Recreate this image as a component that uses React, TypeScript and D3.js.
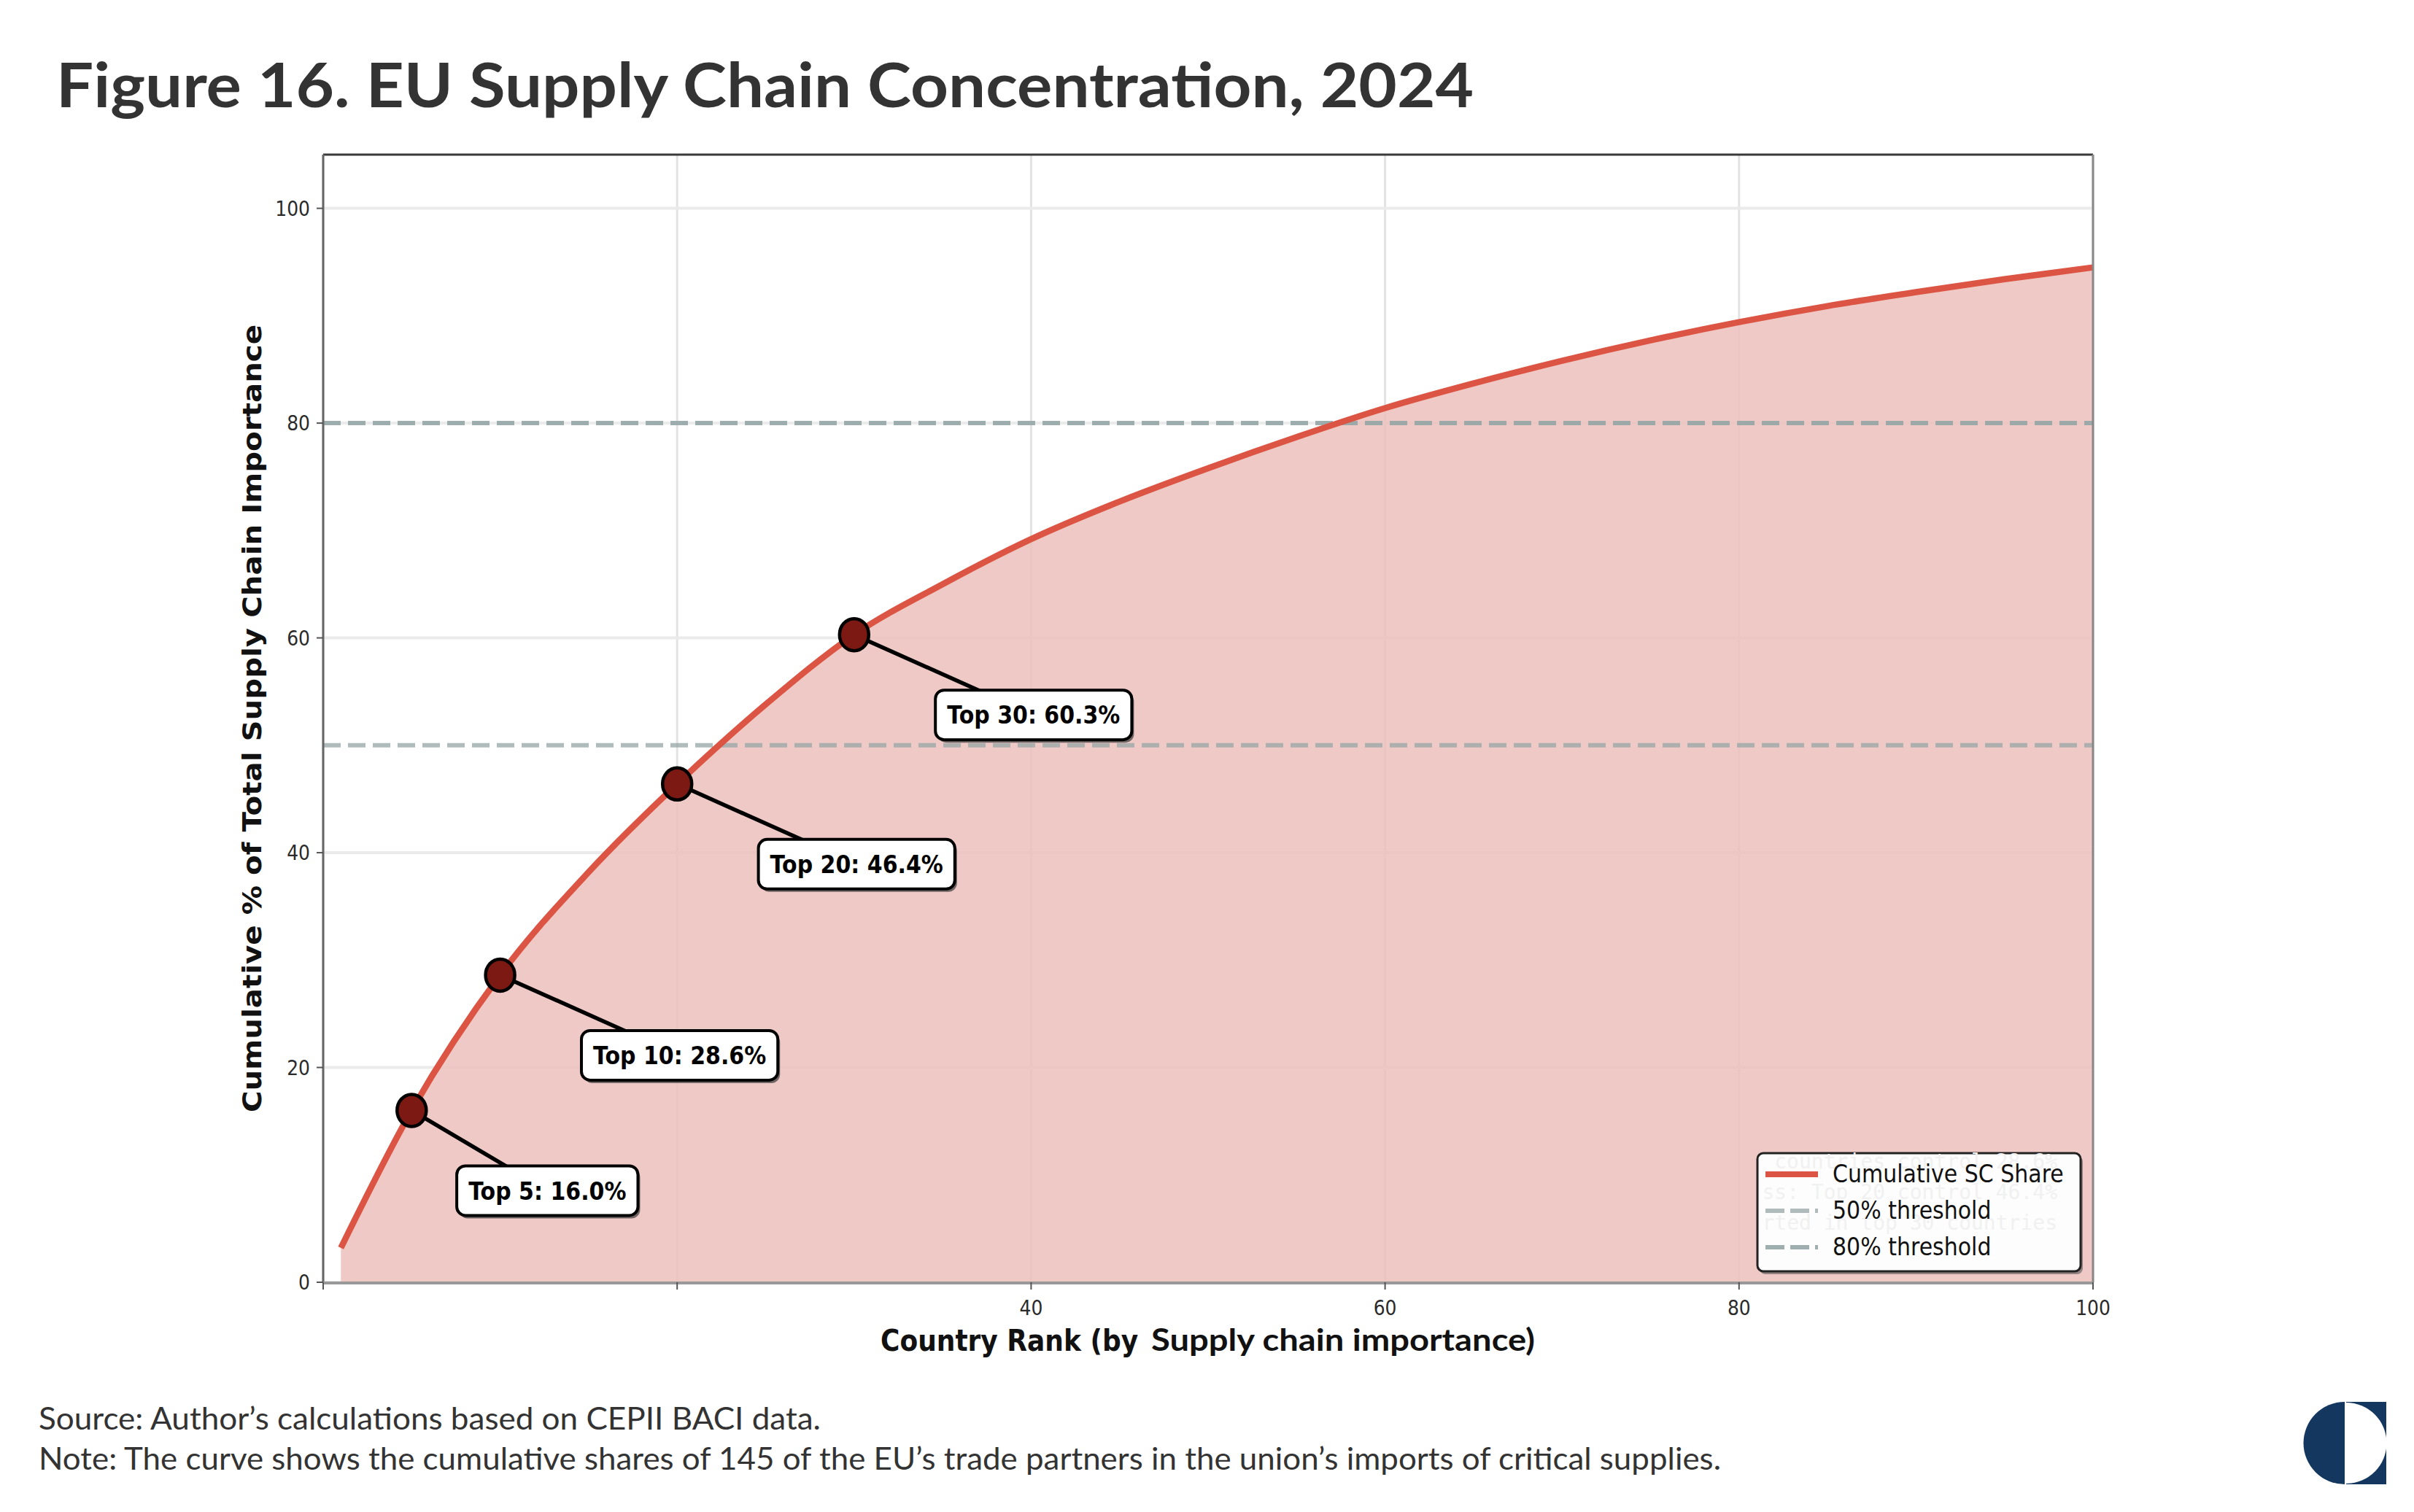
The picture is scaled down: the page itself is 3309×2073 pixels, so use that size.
import React, { useEffect, useRef } from "react";
import * as d3 from "d3";

// ---- data ----
const ranks = [1, 5, 10, 15, 20, 25, 30, 35, 40, 45, 50, 55, 60, 65, 70, 75, 80, 85, 90, 95, 100];
const cumShare = [3.2, 16.0, 28.6, 38.2, 46.4, 53.8, 60.3, 65.0, 69.2, 72.7, 75.8, 78.7, 81.4, 83.7, 85.8, 87.7, 89.4, 90.9, 92.2, 93.4, 94.5];

const topN = [5, 10, 20, 30];
const topShare = [16.0, 28.6, 46.4, 60.3];

const thresholds = [50, 80];
const thresholdLabels = ["50% threshold", "80% threshold"];

const xTicks = [0, 20, 40, 60, 80, 100];
const xTickLabels = ["", "", "40", "60", "80", "100"];
const yTicks = [0, 20, 40, 60, 80, 100];

const TITLE = "Figure 16. EU Supply Chain Concentration, 2024";
const SOURCE = "Source: Author\u2019s calculations based on CEPII BACI data.";
const NOTE = "Note: The curve shows the cumulative shares of 145 of the EU\u2019s trade partners in the union\u2019s imports of critical supplies.";

const W = 3309;
const H = 2073;
const SY = 1.12; // the matplotlib image is slightly stretched vertically
const MPL = "'DejaVu Sans', sans-serif";
const SANS = "Lato, 'Noto Sans', sans-serif";
const RED = "#dc5443";

const App: React.FC = () => {
  const svgRef = useRef<SVGSVGElement | null>(null);

  useEffect(() => {
    if (!svgRef.current) return;
    const svg = d3.select(svgRef.current);
    svg.selectAll("*").remove();

    const m = { left: 443, right: 2869, top: 212, bottom: 1758 };
    const x = d3.scaleLinear().domain([0, 100]).range([m.left, m.right]);
    const y = d3.scaleLinear().domain([0, 105]).range([m.bottom, m.top]);

    svg.append("rect").attr("width", W).attr("height", H).attr("fill", "#fff");

    // stretched text helper
    const sText = (
      g: d3.Selection<any, unknown, null, undefined>,
      tx: number,
      ty: number,
      txt: string,
      size: number,
      anchor: string,
      weight = "normal",
      fill = "#222"
    ) =>
      g
        .append("text")
        .attr("transform", `translate(${tx},${ty}) scale(1,${SY})`)
        .attr("font-family", MPL)
        .attr("font-size", size)
        .attr("font-weight", weight)
        .attr("text-anchor", anchor)
        .attr("fill", fill)
        .text(txt);

    /* title */
    svg
      .append("text")
      .attr("x", 77)
      .attr("y", 147)
      .attr("font-family", SANS)
      .attr("font-weight", 700)
      .attr("font-size", 84)
      .attr("fill", "#333")
      .attr("textLength", 1943)
      .attr("lengthAdjust", "spacingAndGlyphs")
      .text(TITLE);

    /* grid */
    const grid = svg.append("g");
    grid
      .selectAll(".gx")
      .data(xTicks)
      .enter()
      .append("line")
      .attr("x1", (d) => x(d))
      .attr("x2", (d) => x(d))
      .attr("y1", m.top)
      .attr("y2", m.bottom)
      .attr("stroke", "#e3e3e3")
      .attr("stroke-width", 3);
    grid
      .selectAll(".gy")
      .data(yTicks)
      .enter()
      .append("line")
      .attr("x1", m.left)
      .attr("x2", m.right)
      .attr("y1", (d) => y(d))
      .attr("y2", (d) => y(d))
      .attr("stroke", "#ebebeb")
      .attr("stroke-width", 4);

    /* area + curve */
    const pts = ranks.map((r, i) => ({ r, v: cumShare[i] }));
    const area = d3
      .area<{ r: number; v: number }>()
      .x((d) => x(d.r))
      .y0(y(0))
      .y1((d) => y(d.v))
      .curve(d3.curveMonotoneX);
    svg.append("path").attr("d", area(pts)).attr("fill", "#ecbfbb").attr("fill-opacity", 0.85);

    thresholds.forEach((t, i) => {
      svg
        .append("line")
        .attr("x1", m.left)
        .attr("x2", m.right)
        .attr("y1", y(t))
        .attr("y2", y(t))
        .attr("stroke", "#95a5a6")
        .attr("stroke-opacity", i === 0 ? 0.75 : 0.9)
        .attr("stroke-width", 6)
        .attr("stroke-dasharray", "24 10");
    });

    const line = d3
      .line<{ r: number; v: number }>()
      .x((d) => x(d.r))
      .y((d) => y(d.v))
      .curve(d3.curveMonotoneX);
    svg
      .append("path")
      .attr("d", line(pts))
      .attr("fill", "none")
      .attr("stroke", RED)
      .attr("stroke-width", 8.5);

    /* spines + ticks */
    const ax = svg.append("g");
    ax.append("line").attr("x1", m.left).attr("x2", m.right).attr("y1", m.top).attr("y2", m.top)
      .attr("stroke", "#3a3a3a").attr("stroke-width", 3);
    ax.append("line").attr("x1", m.left).attr("x2", m.left).attr("y1", m.top).attr("y2", m.bottom)
      .attr("stroke", "#666").attr("stroke-width", 3);
    ax.append("line").attr("x1", m.right).attr("x2", m.right).attr("y1", m.top).attr("y2", m.bottom)
      .attr("stroke", "#888").attr("stroke-width", 3);
    ax.append("line").attr("x1", m.left).attr("x2", m.right).attr("y1", m.bottom + 1).attr("y2", m.bottom + 1)
      .attr("stroke", "#999").attr("stroke-width", 4);

    xTicks.forEach((t, i) => {
      ax.append("line").attr("x1", x(t)).attr("x2", x(t)).attr("y1", m.bottom).attr("y2", m.bottom + 10)
        .attr("stroke", "#555").attr("stroke-width", 2);
      if (xTickLabels[i]) sText(ax, x(t), 1803, xTickLabels[i], 25, "middle", "normal", "#2a2a2a");
    });
    yTicks.forEach((t) => {
      ax.append("line").attr("x1", m.left - 9).attr("x2", m.left).attr("y1", y(t)).attr("y2", y(t))
        .attr("stroke", "#555").attr("stroke-width", 2);
      sText(ax, 425, y(t) + 10, String(t), 25, "end", "normal", "#2a2a2a");
    });

    /* axis titles */
    svg
      .append("text")
      .attr("transform", `translate(358,${(m.top + m.bottom) / 2}) rotate(-90) scale(${SY},1)`)
      .attr("font-family", MPL)
      .attr("font-weight", "bold")
      .attr("font-size", 36)
      .attr("text-anchor", "middle")
      .attr("fill", "#111")
      .text("Cumulative % of Total Supply Chain Importance");

    sText(svg, 1207, 1852, "Country Rank (by", 36, "start", "bold", "#111");
    svg
      .append("text")
      .attr("x", 1578)
      .attr("y", 1852)
      .attr("font-family", SANS)
      .attr("font-weight", 700)
      .attr("font-size", 42)
      .attr("fill", "#111")
      .attr("textLength", 526)
      .attr("lengthAdjust", "spacingAndGlyphs")
      .text("Supply chain importance)");

    /* annotations */
    const offX = [186, 246, 246, 246];
    const offY = 110;
    topN.forEach((n, i) => {
      const px = x(n);
      const py = y(topShare[i]);
      const cx = px + offX[i];
      const cy = py + offY;
      const g = svg.append("g");
      g.append("line").attr("x1", px).attr("y1", py).attr("x2", cx).attr("y2", cy)
        .attr("stroke", "#000").attr("stroke-width", 5.5);
      g.append("ellipse").attr("cx", px).attr("cy", py).attr("rx", 20).attr("ry", 22)
        .attr("fill", "#7b1912").attr("stroke", "#000").attr("stroke-width", 4.5);

      const label = `Top ${n}: ${topShare[i].toFixed(1)}%`;
      const box = g.append("g");
      const t = sText(box, cx, cy + 0.365 * 30 * SY, label, 30, "middle", "bold", "#000");
      const tw = (t.node() as SVGTextElement).getComputedTextLength();
      const bw = tw + 32;
      const bh = 68;
      box
        .insert("rect", "text")
        .attr("x", cx - bw / 2 + 3)
        .attr("y", cy - bh / 2 + 4)
        .attr("width", bw)
        .attr("height", bh)
        .attr("rx", 12)
        .attr("fill", "#444")
        .attr("fill-opacity", 0.75);
      box
        .insert("rect", "text")
        .attr("x", cx - bw / 2)
        .attr("y", cy - bh / 2)
        .attr("width", bw)
        .attr("height", bh)
        .attr("rx", 12)
        .attr("fill", "#fff")
        .attr("stroke", "#000")
        .attr("stroke-width", 4);
    });

    /* legend */
    const lg = svg.append("g");
    const L = { x: 2409, y: 1581, w: 443, h: 162 };
    lg.append("rect").attr("x", L.x + 3).attr("y", L.y + 4).attr("width", L.w).attr("height", L.h)
      .attr("rx", 8).attr("fill", "#555").attr("fill-opacity", 0.6);
    lg.append("rect").attr("x", L.x).attr("y", L.y).attr("width", L.w).attr("height", L.h)
      .attr("rx", 8).attr("fill", "#fdfdfd").attr("stroke", "#222").attr("stroke-width", 3);
    const ghost = ["countries control 28.6%", "ss: Top 20 control 46.4%", "rted in top 30 countries"];
    ghost.forEach((s, i) => {
      lg.append("text")
        .attr("x", 2820)
        .attr("y", 1602 + i * 42)
        .attr("font-family", "'DejaVu Sans Mono', monospace")
        .attr("font-size", 28)
        .attr("text-anchor", "end")
        .attr("fill", "#f1f1f1")
        .text(s);
    });
    const rows = [
      { label: "Cumulative SC Share", color: RED, dash: null as string | null, op: 1, w: 8 },
      { label: thresholdLabels[0], color: "#95a5a6", dash: "26 8", op: 0.75, w: 6 },
      { label: thresholdLabels[1], color: "#95a5a6", dash: "26 8", op: 0.9, w: 6 },
    ];
    rows.forEach((r, i) => {
      const ry = 1610 + i * 50;
      const ln = lg.append("line").attr("x1", 2420).attr("x2", 2492).attr("y1", ry).attr("y2", ry)
        .attr("stroke", r.color).attr("stroke-width", r.w).attr("stroke-opacity", r.op);
      if (r.dash) ln.attr("stroke-dasharray", r.dash);
      sText(lg, 2512, ry + 11, r.label, 30, "start", "normal", "#111");
    });

    /* footer */
    svg.append("text").attr("x", 53).attr("y", 1960).attr("font-family", SANS).attr("font-size", 43)
      .attr("fill", "#333").attr("textLength", 1072).attr("lengthAdjust", "spacingAndGlyphs").text(SOURCE);
    svg.append("text").attr("x", 53).attr("y", 2015).attr("font-family", SANS).attr("font-size", 43)
      .attr("fill", "#333").attr("textLength", 2306).attr("lengthAdjust", "spacingAndGlyphs").text(NOTE);

    /* logo */
    const navy = "#13375e";
    const lcx = 3215;
    const lcy = 1978.5;
    const lr = 56.5;
    svg.append("path")
      .attr("d", `M${lcx - 1},${lcy - lr} A${lr},${lr} 0 0 0 ${lcx - 1},${lcy + lr} Z`)
      .attr("fill", navy);
    svg.append("rect").attr("x", lcx + 1).attr("y", lcy - lr).attr("width", 55).attr("height", lr * 2).attr("fill", navy);
    svg.append("path")
      .attr("d", `M${lcx + 1},${lcy - lr + 1} A${lr - 1},${lr - 1} 0 0 1 ${lcx + 1},${lcy + lr - 1} Z`)
      .attr("fill", "#fff");
  }, []);

  return (
    <svg
      ref={svgRef}
      width={W}
      height={H}
      style={{ position: "absolute", left: 0, top: 0, display: "block" }}
    />
  );
};

export default App;
